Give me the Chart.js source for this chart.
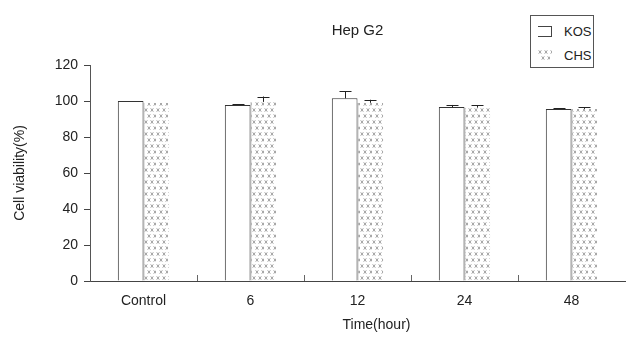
<!DOCTYPE html>
<html>
<head>
<meta charset="utf-8">
<script src="https://cdn.jsdelivr.net/npm/chart.js@4/dist/chart.umd.min.js"></script>
<style>
  html, body { margin: 0; padding: 0; background: #fff; }
  #wrap { position: relative; width: 630px; height: 345px; }
  #legend {
    position: absolute; left: 530px; top: 15px; width: 62px; height: 51px;
    border: 1px solid #555; background: #fff;
    font-family: "Liberation Sans", Arial, sans-serif; font-size: 13px; color: #222;
  }
  .item { position: absolute; left: 7px; height: 12px; line-height: 12px; }
  .item span { position: absolute; left: 26px; top: 0; }
  .sw { position: absolute; left: 0; top: 0; width: 14px; height: 11px; box-sizing: border-box; }
  #kosSw { border-top: 1px solid #444; border-right: 1px solid #444; border-bottom: 1px solid #444; }
</style>
</head>
<body>
<div id="wrap">
  <canvas id="chart" width="630" height="345"></canvas>
  <div id="legend">
    <div class="item" style="top:10px"><div class="sw" id="kosSw"></div><span>KOS</span></div>
    <div class="item" style="top:34px"><canvas class="sw" id="chsSw" width="14" height="11"></canvas><span>CHS</span></div>
  </div>
</div>
<script>
// ---- data ----
const categories = ['Control', '6', '12', '24', '48'];
const kosValues = [100, 97.8, 101.5, 96.6, 95.6];
const kosErr = [0, 0.4, 4, 1.2, 0.5];
const chsValues = [99, 99.5, 99, 96.3, 95.6];
const chsErr = [0, 3, 1.7, 1.3, 0.8];
const yTicks = [0, 20, 40, 60, 80, 100, 120];
const xTitle = 'Time(hour)';

// dotted / starred fill used for the CHS bars
function makePattern() {
  const c = document.createElement('canvas');
  c.width = 12; c.height = 12;
  const g = c.getContext('2d');
  g.fillStyle = '#fff';
  g.fillRect(0, 0, 12, 12);
  g.strokeStyle = '#a8a8a8';
  g.lineWidth = 1;
  [[2, 2], [8, 2], [5, 8], [11, 8]].forEach(([x, y]) => {
    g.beginPath();
    g.moveTo(x - 1.5, y - 1.5); g.lineTo(x + 1.5, y + 1.5);
    g.moveTo(x + 1.5, y - 1.5); g.lineTo(x - 1.5, y + 1.5);
    g.moveTo(x, y - 1.5); g.lineTo(x, y + 1.5);
    g.stroke();
  });
  return document.getElementById('chart').getContext('2d').createPattern(c, 'repeat');
}
const chsFill = makePattern();

// legend swatch
(function () {
  const sw = document.getElementById('chsSw').getContext('2d');
  sw.fillStyle = chsFill;
  sw.fillRect(0, 0, 14, 11);
})();

// one-sided error bars (upper only)
const errorBars = {
  id: 'errorBars',
  afterDatasetsDraw(chart) {
    const ctx = chart.ctx;
    const y = chart.scales.y;
    const errs = [kosErr, chsErr];
    ctx.save();
    ctx.strokeStyle = '#222';
    ctx.lineWidth = 1;
    chart.data.datasets.forEach((ds, di) => {
      chart.getDatasetMeta(di).data.forEach((bar, i) => {
        const e = errs[di][i];
        if (!e) return;
        const top = y.getPixelForValue(ds.data[i] + e);
        const x = Math.round(bar.x) + 0.5;
        ctx.beginPath();
        ctx.moveTo(x, bar.y);
        ctx.lineTo(x, top);
        ctx.moveTo(x - 6, Math.round(top) + 0.5);
        ctx.lineTo(x + 6, Math.round(top) + 0.5);
        ctx.stroke();
      });
    });
    ctx.restore();
  }
};

// short upward marks between the groups, and the x title (sits right of centre)
const groupMarks = {
  id: 'groupMarks',
  afterDraw(chart) {
    const ctx = chart.ctx;
    const x = chart.scales.x;
    const area = chart.chartArea;
    ctx.save();
    ctx.strokeStyle = '#666';
    ctx.lineWidth = 1;
    for (let i = 1; i < categories.length; i++) {
      const px = Math.round((x.getPixelForValue(i - 1) + x.getPixelForValue(i)) / 2) + 0.5;
      ctx.beginPath();
      ctx.moveTo(px, area.bottom);
      ctx.lineTo(px, area.bottom - 6);
      ctx.stroke();
    }
    ctx.fillStyle = '#222';
    ctx.font = '14px "Liberation Sans", Arial, sans-serif';
    ctx.textAlign = 'center';
    ctx.textBaseline = 'middle';
    ctx.fillText(xTitle, (area.left + area.right) / 2 + 19, area.bottom + 44);
    ctx.restore();
  }
};

const font = { family: '"Liberation Sans", Arial, sans-serif', size: 14 };

new Chart(document.getElementById('chart'), {
  type: 'bar',
  data: {
    labels: categories,
    datasets: [{
      label: 'KOS',
      data: kosValues,
      backgroundColor: '#fff',
      borderColor: '#333',
      borderWidth: { top: 1, left: 1, right: 1, bottom: 0 },
      borderSkipped: false,
      categoryPercentage: 0.48,
      barPercentage: 1
    }, {
      label: 'CHS',
      data: chsValues,
      backgroundColor: chsFill,
      borderColor: '#888',
      borderWidth: { top: 0, left: 1, right: 0, bottom: 0 },
      borderSkipped: false,
      categoryPercentage: 0.48,
      barPercentage: 1
    }]
  },
  options: {
    responsive: false,
    animation: false,
    layout: { padding: { left: 0, right: 5, top: 0, bottom: 0 } },
    plugins: {
      legend: { display: false },
      tooltip: { enabled: false },
      title: {
        display: true,
        text: 'Hep G2',
        fullSize: false,
        color: '#222',
        font: { family: font.family, size: 15, weight: 'normal' },
        padding: { top: 22, bottom: 25 }
      }
    },
    scales: {
      x: {
        grid: { display: true, drawOnChartArea: false, drawTicks: false },
        border: { display: true, color: '#444', width: 1 },
        ticks: { color: '#222', font: font, padding: 12 },
        afterFit(s) { s.height = 64; }
      },
      y: {
        min: 0,
        max: 120,
        afterBuildTicks(s) { s.ticks = yTicks.map(v => ({ value: v })); },
        grid: { display: true, drawOnChartArea: false, drawTicks: true, tickLength: 6, color: '#444' },
        border: { display: true, color: '#555', width: 1 },
        ticks: { color: '#222', font: font, padding: 6 },
        title: { display: true, text: 'Cell viability(%)', color: '#222', font: font, padding: { top: 12, bottom: 0 } },
        afterFit(s) { s.width = 90; }
      }
    }
  },
  plugins: [errorBars, groupMarks]
});
</script>
</body>
</html>
